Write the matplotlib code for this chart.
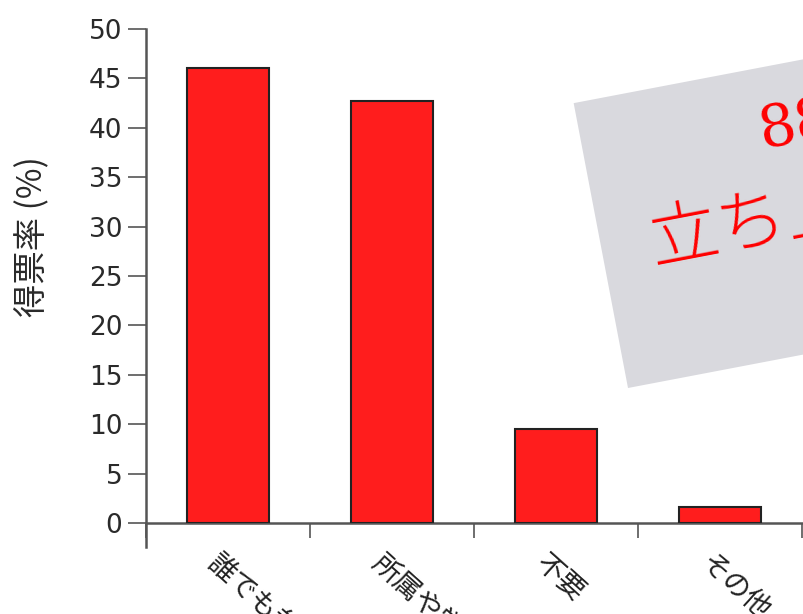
import matplotlib.pyplot as plt
from matplotlib.patches import Rectangle

plt.rcParams['font.family'] = ['DejaVu Sans', 'Noto Sans CJK JP']

categories = ['誰でも参加できる', '所属や学位を問わない', '不要', 'その他']
rates = [46.1, 42.7, 9.5, 1.6]
yticks = [0, 5, 10, 15, 20, 25, 30, 35, 40, 45, 50]

fig = plt.figure(figsize=(8.04, 6.14), dpi=100)
ax = fig.add_axes([146 / 804, 91 / 614, 1 - 146 / 804, 494 / 614])

pos = list(range(len(categories)))
ax.bar(pos, rates, width=0.5, color='#ff1d1d', edgecolor='#222222', linewidth=1.5, zorder=3)

ax.set_ylim(0, 50)
ax.set_xlim(-0.5, 3.51)
ax.set_yticks(yticks)
ax.tick_params(axis='y', labelsize=19, length=13, width=1.2, color='#555555', pad=4,
               labelcolor='#2a2a2a')
ax.set_xticks([p - 0.5 for p in pos] + [3.5])
ax.set_xticklabels([])
ax.tick_params(axis='x', length=11, width=1.2, color='#555555')
for p, lab in zip(pos, categories):
    ax.text(p - 0.04, -2.6, lab, rotation=-42, rotation_mode='anchor', ha='left', va='top',
            fontsize=20, color='#222222', clip_on=False, family=['Noto Sans CJK JP'])

for s in ['top', 'right']:
    ax.spines[s].set_visible(False)
ax.spines['left'].set_color('#555555')
ax.spines['bottom'].set_color('#555555')
ax.spines['left'].set_linewidth(1.8)
ax.spines['bottom'].set_linewidth(1.8)
ax.spines['left'].set_bounds(-2.4, 50)
ax.set_ylabel('得票率 (%)', fontsize=24, color='#2a2a2a',
              family=['Noto Sans CJK JP', 'DejaVu Sans'])
ax.yaxis.label.set_va('center')
ax.yaxis.set_label_coords(-0.172, 0.58)

# overlay note (rotated grey card)
card = Rectangle((628, 226), 420, 290, angle=10.8, transform=None,
                 facecolor='#d9d9de', edgecolor='none', zorder=5)
fig.patches.append(card)
fig.text(762, 466, '88%', transform=None, rotation=10.8, rotation_mode='anchor',
         ha='left', va='baseline', fontsize=42, color='#ff0000', family='DejaVu Serif', zorder=6)
fig.text(653, 350, '立ち上げ', transform=None, rotation=10.8, rotation_mode='anchor',
         ha='left', va='baseline', fontsize=50, color='#ff0000', fontweight='light',
         family=['Noto Sans CJK JP'], zorder=6)

fig.savefig('out.png', dpi=100)
